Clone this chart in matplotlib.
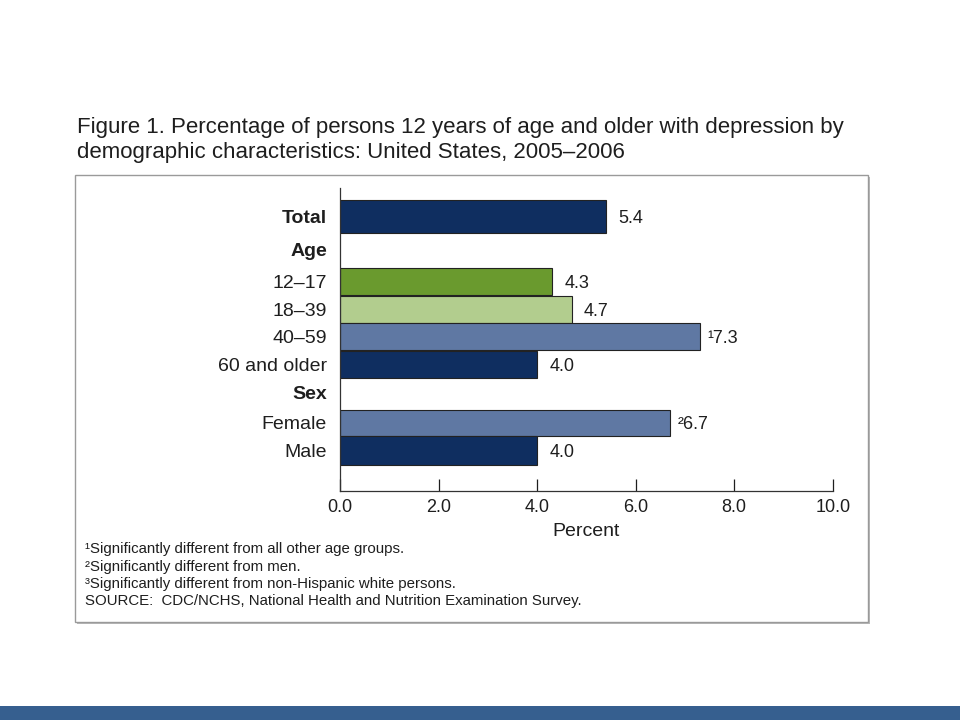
import matplotlib
matplotlib.use("Agg")
import matplotlib.pyplot as plt
from matplotlib.patches import Rectangle

plt.rcParams['font.family'] = ['Liberation Sans', 'DejaVu Sans']

# ---- data ----
categories = ["Total", "12\u201317", "18\u201339", "40\u201359", "60 and older", "Female", "Male"]
values = [5.4, 4.3, 4.7, 7.3, 4.0, 6.7, 4.0]
value_labels = ["5.4", "4.3", "4.7", "\u00b97.3", "4.0", "\u00b26.7", "4.0"]
group_headers = ["Age", "Sex"]
xticks = [0, 2, 4, 6, 8, 10]
xtick_labels = ["0.0", "2.0", "4.0", "6.0", "8.0", "10.0"]
footnotes = [
    "\u00b9Significantly different from all other age groups.",
    "\u00b2Significantly different from men.",
    "\u00b3Significantly different from non-Hispanic white persons.",
    "SOURCE:  CDC/NCHS, National Health and Nutrition Examination Survey.",
]
title_lines = ["Figure 1. Percentage of persons 12 years of age and older with depression by",
               "demographic characteristics: United States, 2005\u20132006"]

# ---- layout (row positions, px-like units from the top of the axes) ----
row_pos = [28.5, 93, 121, 148.5, 176.5, 235, 262.5]
row_h = [33, 27, 27, 27, 27, 26.5, 28.5]
header_pos = [64, 207]
navy = "#0f2e60"
green = "#6a9a2e"
lgreen = "#b2cd8e"
slate = "#5f78a3"
colors = [navy, green, lgreen, slate, navy, slate, navy]
txt = "#1e1e1e"

W, H = 960, 720
fig = plt.figure(figsize=(9.6, 7.2), dpi=100)
fig.patch.set_facecolor("white")

# outer box with shadow
fig.patches.append(Rectangle((77 / W, 1 - 624 / H), 793 / W, 447 / H, transform=fig.transFigure,
                             facecolor="#b8b8b8", edgecolor="none", zorder=0))
fig.patches.append(Rectangle((75 / W, 1 - 622 / H), 793 / W, 447 / H, transform=fig.transFigure,
                             facecolor="white", edgecolor="#9a9a9a", lw=1.0, zorder=1))
# bottom band
fig.patches.append(Rectangle((0, 0), 1, 14 / H, transform=fig.transFigure,
                             facecolor="#365f8f", edgecolor="none", zorder=1))

for yb, line in zip([133, 158], title_lines):
    fig.text(77 / W, 1 - yb / H, line, ha="left", va="baseline", fontsize=16, color=txt)

ax_top, ax_bot = 188, 490.7
ax = fig.add_axes([340 / W, 1 - ax_bot / H, 492.7 / W, (ax_bot - ax_top) / H])
ax.set_zorder(3)
ax.patch.set_alpha(0)
ax.barh(row_pos, values, height=row_h, color=colors, edgecolor="#222222", linewidth=0.8)
ax.set_ylim(ax_bot - ax_top, 0)
ax.set_xlim(0, 10)

for y, v, lab in zip(row_pos, values, value_labels):
    off = 0.16 if lab[0] in "\u00b9\u00b2" else 0.25
    ax.text(v + off, y + 2, lab, ha="left", va="center", fontsize=13, color=txt)

ax.set_yticks(row_pos)
ax.set_yticklabels(categories, fontsize=14)
ax.get_yticklabels()[0].set_fontweight("bold")
ax.tick_params(axis="y", length=0, pad=9.5, colors=txt)
for y, h in zip(header_pos, group_headers):
    ax.text(-13 / 49.27, y, h, ha="right", va="center", fontsize=14, fontweight="bold", color=txt)

ax.set_xticks(xticks)
ax.set_xticklabels(xtick_labels, fontsize=13)
ax.tick_params(axis="x", direction="in", length=9, width=0.9, pad=6, colors=txt)
ax.set_xlabel("Percent", fontsize=14, color=txt, labelpad=5)

for s in ["top", "right"]:
    ax.spines[s].set_visible(False)
for s in ["left", "bottom"]:
    ax.spines[s].set_color("#333333")
    ax.spines[s].set_linewidth(0.9)

for yc, t in zip([549, 567, 584, 601], footnotes):
    fig.text(85 / W, 1 - yc / H, t, ha="left", va="center", fontsize=10.8, color=txt)

fig.savefig("out.png", dpi=100, facecolor="white")
